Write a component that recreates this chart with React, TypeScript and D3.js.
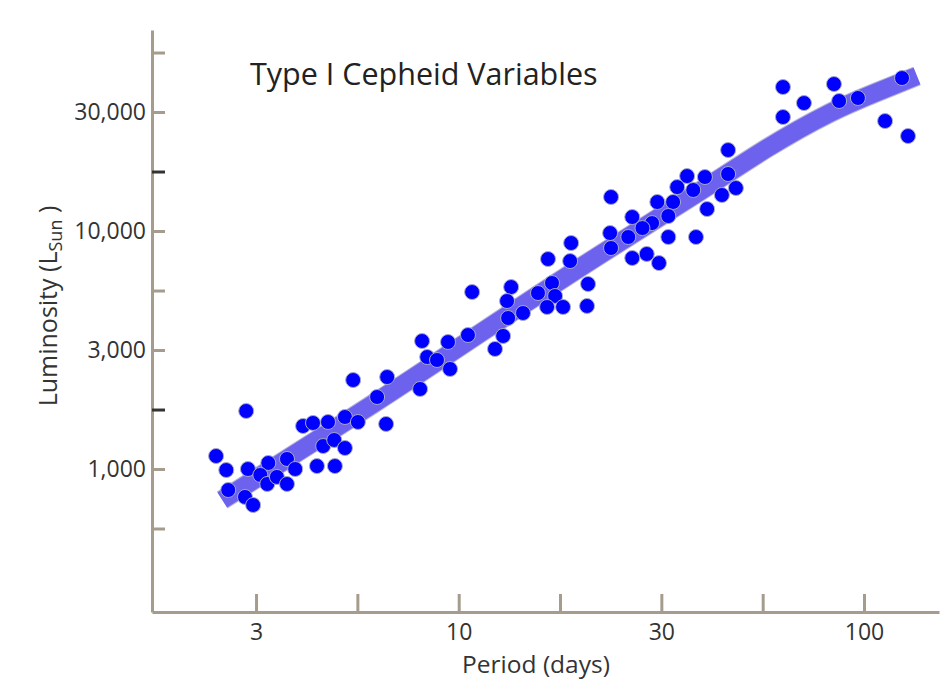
import React, { useEffect, useRef } from "react";
import * as d3 from "d3";

// period (days) and luminosity (L_sun) of each star
const periods = [
  2.52, 2.67, 2.70, 2.97, 3.11, 3.02, 3.39, 3.24, 3.37, 3.56, 3.77, 3.77, 3.95, 4.47, 4.95,
  4.63, 4.93, 5.24, 4.13, 4.37, 4.76, 5.24, 5.64, 6.62, 6.29, 5.49, 6.66, 8.03, 2.99,
  8.12, 8.36, 8.84, 9.52, 9.41, 10.54, 10.79, 12.29, 12.87, 13.47, 13.16, 13.24, 14.41,
  15.69, 16.99, 17.29, 16.52, 18.09, 20.85, 20.73, 16.61, 18.83, 18.94, 23.76, 23.63, 23.76,
  46.2, 36.6, 40.5, 46.2, 34.6, 37.9, 48.3, 44.6, 30.9, 33.8, 41.0, 26.8, 30.0, 32.9, 28.4,
  26.2, 32.9, 38.5, 26.8, 29.1, 31.2,
  63.1, 84.3, 124.1, 71.1, 86.8, 96.6, 63.1, 112.7, 128.4,
];
const luminosities = [
  1134, 990, 816, 763, 706, 1000, 1060, 944, 865, 926, 865, 1102, 1000, 1029, 1029,
  1249, 1324, 1225, 1516, 1561, 1576, 1654, 1576, 1546, 2007, 2365, 2435, 2169, 1753,
  3450, 2955, 2871, 2632, 3417, 3656, 5541, 3194, 3622, 5816, 5080, 4310, 4524,
  5488, 6047, 5332, 4795, 4795, 5989, 4842, 7627, 7478, 8905, 13900, 9808, 8483,
  21890, 17020, 16860, 17360, 15300, 14870, 15160, 14170, 13240, 13240, 12370, 11450, 10800, 11560, 10290,
  9437, 9437, 9437, 7700, 8008, 7335,
  40270, 41460, 43940, 34500, 35180, 36220, 30130, 28990, 25070,
];

// the thick fitted band
const fitPeriods = [2.61, 6.58, 11.29, 22.33, 39.4, 57.6, 83.9, 107.7, 135.1];
const fitLuminosities = [741, 2007, 3727, 8008, 14580, 22540, 32240, 38370, 44810];

// ticks sit every quarter decade, labels on the half decades
const xTickValues = [3.162, 5.623, 10, 17.78, 31.62, 56.23, 100];
const xTickLabels = ["3", "", "10", "", "30", "", "100"];
const yTickValues = [562.3, 1000, 1778, 3162, 5623, 10000, 17783, 31623, 56234];
const yTickLabels = ["", "1,000", "", "3,000", "", "10,000", "", "30,000", ""];

const axisColor = "#a59c8d";
const textColor = "#333333";
const font = "'Open Sans', sans-serif";

export default function App() {
  const ref = useRef<SVGSVGElement>(null);

  useEffect(() => {
    const svg = d3.select(ref.current);
    svg.selectAll("*").remove();

    const x = d3.scaleLog().domain([1.751, 153.1]).range([152, 939]);
    const y = d3.scaleLog().domain([250.7, 69930]).range([612, 30]);

    // band
    const fit = fitPeriods.map((p, i) => [p, fitLuminosities[i]] as [number, number]);
    const line = d3.line<[number, number]>()
      .x(d => x(d[0]))
      .y(d => y(d[1]))
      .curve(d3.curveBasis);
    svg.append("path")
      .attr("d", line(fit))
      .attr("fill", "none")
      .attr("stroke", "#b8b4dc")
      .attr("stroke-width", 20);
    svg.append("path")
      .attr("d", line(fit))
      .attr("fill", "none")
      .attr("stroke", "#6c62ee")
      .attr("stroke-width", 18);

    // stars
    svg.append("g")
      .selectAll("circle")
      .data(periods)
      .enter()
      .append("circle")
      .attr("cx", d => x(d))
      .attr("cy", (d, i) => y(luminosities[i]))
      .attr("r", 7.5)
      .attr("fill", "#0000ff")
      .attr("stroke", "#a8a8c8")
      .attr("stroke-width", 1);

    // axes
    const yAxis = d3.axisLeft(y)
      .tickValues(yTickValues)
      .tickFormat((d, i) => yTickLabels[i])
      .tickSize(-13)
      .tickSizeOuter(0)
      .tickPadding(6);
    const yg = svg.append("g").attr("transform", "translate(152,0)").call(yAxis);

    const xAxis = d3.axisBottom(x)
      .tickValues(xTickValues)
      .tickFormat((d, i) => xTickLabels[i])
      .tickSize(-18)
      .tickSizeOuter(0)
      .tickPadding(12);
    const xg = svg.append("g").attr("transform", "translate(0,612)").call(xAxis);

    [yg, xg].forEach(g => {
      g.select(".domain").attr("stroke", axisColor).attr("stroke-width", 3);
      g.selectAll(".tick line").attr("stroke", axisColor).attr("stroke-width", 3);
      g.selectAll(".tick text")
        .attr("fill", textColor)
        .style("font-family", font)
        .style("font-size", "23px");
    });
    // the two unlabeled middle ticks on the y axis are darker
    yg.selectAll(".tick line")
      .filter((d: any) => d === 1778 || d === 17783)
      .attr("stroke", "#333");
    yg.selectAll(".tick text").attr("dy", "0.33em");

    // titles
    svg.append("text")
      .attr("x", 250)
      .attr("y", 85)
      .attr("fill", "#222")
      .style("font-family", font)
      .style("font-size", "30.5px")
      .text("Type I Cepheid Variables");

    svg.append("text")
      .attr("x", 536)
      .attr("y", 673)
      .attr("text-anchor", "middle")
      .attr("fill", textColor)
      .style("font-family", font)
      .style("font-size", "24.5px")
      .text("Period (days)");

    const yl = svg.append("text")
      .attr("transform", "translate(57,306) rotate(-90)")
      .attr("text-anchor", "middle")
      .attr("fill", textColor)
      .style("font-family", font)
      .style("font-size", "25px");
    yl.append("tspan").text("Luminosity (L");
    yl.append("tspan").attr("dy", 5).style("font-size", "18px").text("Sun");
    yl.append("tspan").attr("dy", -5).text(" )");
  }, []);

  return (
    <svg
      ref={ref}
      width={941}
      height={684}
      style={{ position: "absolute", left: 0, top: 0, background: "#fff" }}
    />
  );
}
